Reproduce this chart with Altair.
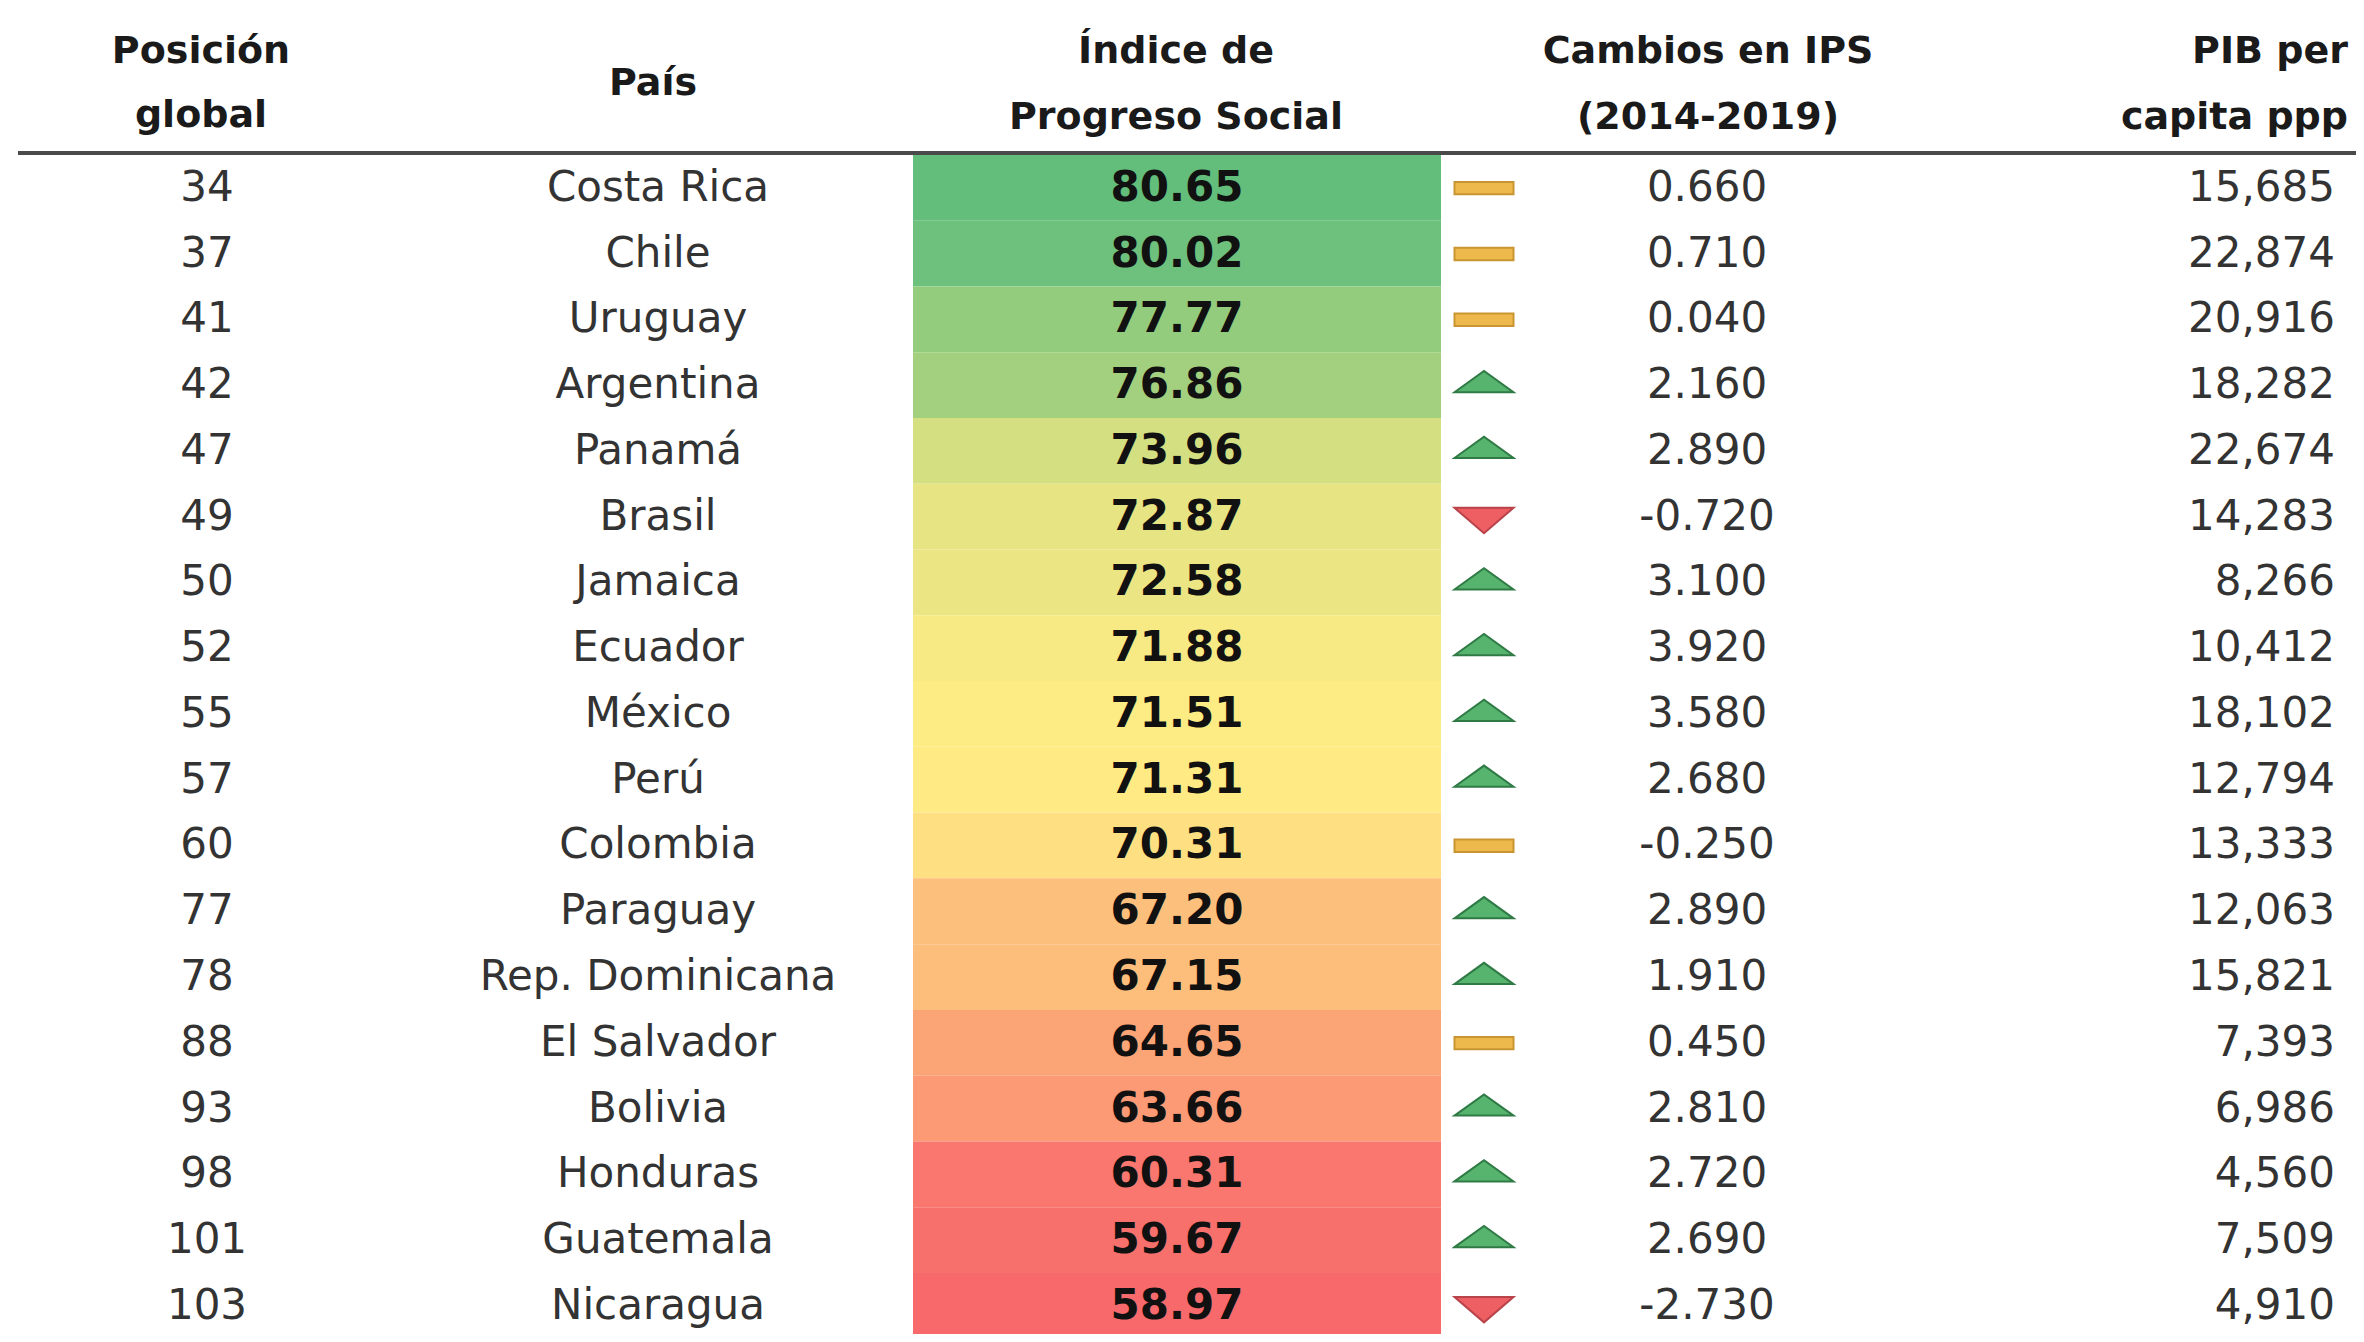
import altair as alt
import pandas as pd
import numpy as np

posicion = [34, 37, 41, 42, 47, 49, 50, 52, 55, 57, 60, 77, 78, 88, 93, 98, 101, 103]
paises = ["Costa Rica", "Chile", "Uruguay", "Argentina", "Panamá", "Brasil", "Jamaica",
          "Ecuador", "México", "Perú", "Colombia", "Paraguay", "Rep. Dominicana",
          "El Salvador", "Bolivia", "Honduras", "Guatemala", "Nicaragua"]
ips = [80.65, 80.02, 77.77, 76.86, 73.96, 72.87, 72.58, 71.88, 71.51, 71.31, 70.31,
       67.20, 67.15, 64.65, 63.66, 60.31, 59.67, 58.97]
cambios = [0.660, 0.710, 0.040, 2.160, 2.890, -0.720, 3.100, 3.920, 3.580, 2.680, -0.250,
           2.890, 1.910, 0.450, 2.810, 2.720, 2.690, -2.730]
tendencia = ["=", "=", "=", "+", "+", "-", "+", "+", "+", "+", "=", "+", "+", "=", "+",
             "+", "+", "-"]
pib = [15685, 22874, 20916, 18282, 22674, 14283, 8266, 10412, 18102, 12794, 13333,
       12063, 15821, 7393, 6986, 4560, 7509, 4910]

df = pd.DataFrame({
    "posicion": posicion,
    "pais": paises,
    "ips": ips,
    "cambios": cambios,
    "tendencia": tendencia,
    "pib": pib,
})

FONT = "DejaVu Sans"
BODY = 42
HEAD = 38

ymin, ymed, ymax = min(ips), float(np.median(ips)), max(ips)

Y = alt.Y("pais:N", sort=paises, axis=None,
          scale=alt.Scale(range=[147, 1330.7], paddingInner=0, paddingOuter=0))

base = alt.Chart(df).transform_calculate(
    cam_txt="replace(format(datum.cambios, '.3f'), '\u2212', '-')"
).encode(y=Y)

cells = base.mark_rect().encode(
    x=alt.value(905), x2=alt.value(1433),
    color=alt.Color("ips:Q", legend=None,
                    scale=alt.Scale(domain=[ymin, ymed, ymax],
                                    range=["#F8696B", "#FFEB84", "#63BE7B"],
                                    interpolate="rgb")),
)

def col_text(field, x, fmt=None, align="center", bold=False, color="#333333"):
    t = alt.Text(field, format=fmt) if fmt else alt.Text(field)
    return base.mark_text(font=FONT, fontSize=BODY, align=align, baseline="middle",
                          fontWeight="bold" if bold else "normal", color=color).encode(
        x=alt.value(x), text=t)

t_pos = col_text("posicion:Q", 199)
t_pais = col_text("pais:N", 650)
t_ips = col_text("ips:Q", 1169, fmt=".2f", bold=True, color="#111111")
t_cam = col_text("cam_txt:N", 1699)
t_pib = col_text("pib:Q", 2327, fmt=",d", align="right")

up = "M-1,0.24L0,-0.48L1,0.24Z"
dash = "M-1,-0.2L1,-0.2L1,0.22L-1,0.22Z"
down = "M-1,-0.3L1,-0.3L0,0.56Z"

icons = base.mark_point(filled=True, size=3481, strokeWidth=2, opacity=1).encode(
    x=alt.value(1476),
    shape=alt.Shape("tendencia:N", legend=None,
                    scale=alt.Scale(domain=["+", "=", "-"], range=[up, dash, down])),
    fill=alt.Fill("tendencia:N", legend=None,
                  scale=alt.Scale(domain=["+", "=", "-"],
                                  range=["#56B46E", "#EDB84C", "#EE5F63"])),
    stroke=alt.Stroke("tendencia:N", legend=None,
                      scale=alt.Scale(domain=["+", "=", "-"],
                                      range=["#2F7A45", "#C99530", "#B8434A"])),
)

one = alt.Data(values=[{}])

def head(text, x, y, align="center"):
    return alt.Chart(one).mark_text(text=text, font=FONT, fontSize=HEAD, fontWeight="bold",
                                    align=align, baseline="middle", color="#1a1a1a").encode(
        x=alt.value(x), y=alt.value(y))

headers = [
    head("Posición", 193, 44), head("global", 193, 108),
    head("País", 645, 76),
    head("Índice de", 1168, 44), head("Progreso Social", 1168, 110),
    head("Cambios en IPS", 1700, 44), head("(2014-2019)", 1700, 110),
    head("PIB per", 2340, 44, "right"), head("capita ppp", 2340, 110, "right"),
]

rule = alt.Chart(one).mark_rule(color="#4a4a4a", strokeWidth=4).encode(
    x=alt.value(10), x2=alt.value(2356), y=alt.value(145))

chart = alt.layer(cells, t_pos, t_pais, t_ips, icons, t_cam, t_pib, rule, *headers).properties(
    width=2348, height=1326, padding=0,
    autosize=alt.AutoSizeParams(type="none"),
    background="white",
).configure_view(stroke=None)

chart.save("out.html", embed_options={"renderer": "svg", "actions": False})
